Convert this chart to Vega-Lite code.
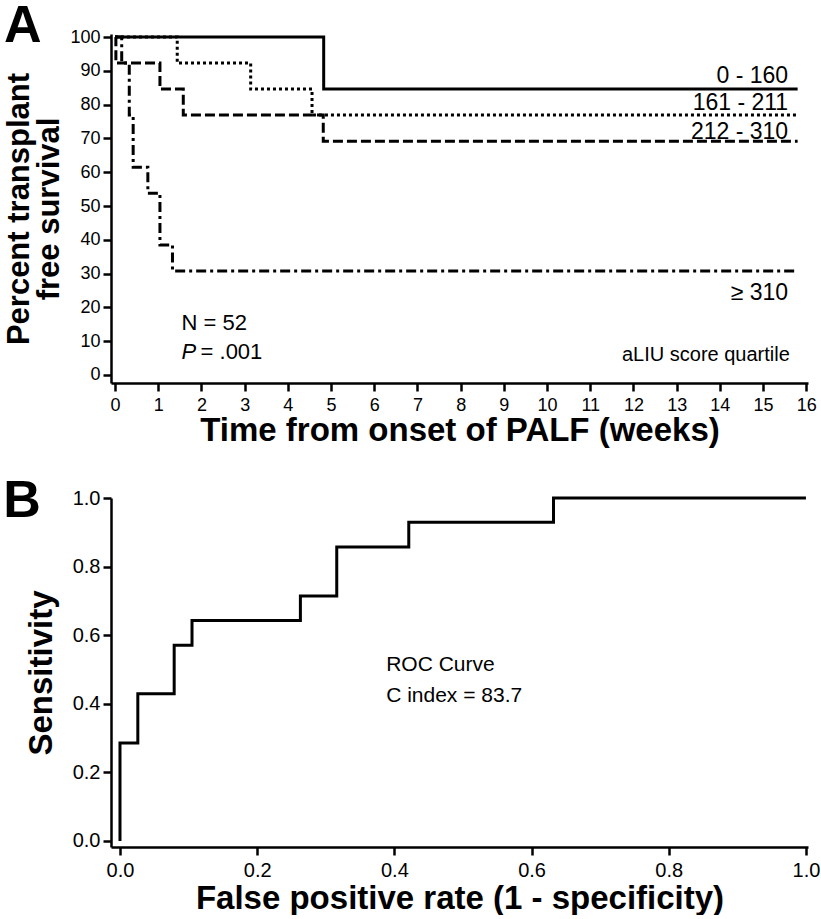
{
  "$schema": "https://vega.github.io/schema/vega-lite/v6.json",
  "background": "white",
  "padding": {"left": 3, "top": 0, "right": 5, "bottom": 0},
  "config": {
    "view": {"stroke": null},
    "font": "Liberation Sans",
    "concat": {"spacing": 28},
    "axis": {
      "grid": false,
      "domainColor": "black",
      "domainWidth": 2.5,
      "tickColor": "black",
      "tickWidth": 2.5,
      "tickSize": 8,
      "labelColor": "black",
      "labelFont": "Liberation Sans",
      "labelFlush": false,
      "labelOverlap": false,
      "titleColor": "black",
      "titleFont": "Liberation Sans",
      "titleFontWeight": "bold"
    },
    "text": {"color": "black", "font": "Liberation Sans"}
  },
  "datasets": {
    "km": [
      {"group": "0 - 160", "t": 0, "s": 100},
      {"group": "0 - 160", "t": 4.83, "s": 84.6},
      {"group": "0 - 160", "t": 15.8, "s": 84.6},
      {"group": "161 - 211", "t": 0, "s": 100},
      {"group": "161 - 211", "t": 1.44, "s": 92.3},
      {"group": "161 - 211", "t": 3.14, "s": 84.6},
      {"group": "161 - 211", "t": 4.56, "s": 76.9},
      {"group": "161 - 211", "t": 15.8, "s": 76.9},
      {"group": "212 - 310", "t": 0, "s": 100},
      {"group": "212 - 310", "t": 0.02, "s": 92.3},
      {"group": "212 - 310", "t": 1.04, "s": 84.6},
      {"group": "212 - 310", "t": 1.58, "s": 76.9},
      {"group": "212 - 310", "t": 4.82, "s": 69.2},
      {"group": "212 - 310", "t": 15.8, "s": 69.2},
      {"group": "≥ 310", "t": 0, "s": 100},
      {"group": "≥ 310", "t": 0.155, "s": 92.3},
      {"group": "≥ 310", "t": 0.33, "s": 76.9},
      {"group": "≥ 310", "t": 0.42, "s": 61.5},
      {"group": "≥ 310", "t": 0.76, "s": 53.8},
      {"group": "≥ 310", "t": 1.04, "s": 38.5},
      {"group": "≥ 310", "t": 1.33, "s": 30.8},
      {"group": "≥ 310", "t": 15.8, "s": 30.8}
    ],
    "groupLabels": [
      {"label": "0 - 160", "t": 15.58, "s": 88.5},
      {"label": "161 - 211", "t": 15.58, "s": 80.6},
      {"label": "212 - 310", "t": 15.58, "s": 71.9},
      {"label": "≥ 310", "t": 15.58, "s": 24.3}
    ],
    "roc": [
      {"fpr": 0, "tpr": 0},
      {"fpr": 0.026, "tpr": 0.286},
      {"fpr": 0.079, "tpr": 0.429},
      {"fpr": 0.105, "tpr": 0.571},
      {"fpr": 0.263, "tpr": 0.643},
      {"fpr": 0.316, "tpr": 0.714},
      {"fpr": 0.421, "tpr": 0.857},
      {"fpr": 0.632, "tpr": 0.929},
      {"fpr": 1.0, "tpr": 1.0}
    ]
  },
  "vconcat": [
    {
      "width": 697,
      "height": 349,
      "title": {"text": "A", "anchor": "start", "frame": "bounds", "fontSize": 52, "fontWeight": "bold", "font": "Liberation Sans", "color": "black", "offset": 0, "dy": 25},
      "encoding": {
        "x": {
          "field": "t", "type": "quantitative",
          "scale": {"domain": [-0.093, 16.04], "nice": false, "zero": false},
          "axis": {"values": [0,1,2,3,4,5,6,7,8,9,10,11,12,13,14,15,16], "labelFontSize": 18, "labelPadding": 5, "title": "Time from onset of PALF (weeks)", "titleFontSize": 33, "titlePadding": 0}
        },
        "y": {
          "field": "s", "type": "quantitative",
          "scale": {"domain": [-2.37, 100.9], "nice": false, "zero": false},
          "axis": {"values": [0,10,20,30,40,50,60,70,80,90,100], "labelFontSize": 18, "labelPadding": 3, "title": ["Percent transplant", "free survival"], "titleFontSize": 31, "titleLineHeight": 30, "titlePadding": 4}
        }
      },
      "layer": [
        {
          "data": {"name": "km"},
          "mark": {"type": "line", "interpolate": "step-after", "strokeWidth": 3, "color": "black"},
          "encoding": {
            "strokeDash": {
              "field": "group", "type": "nominal",
              "scale": {"domain": ["0 - 160", "161 - 211", "212 - 310", "≥ 310"], "range": [[1, 0], [3, 3], [10, 4], [10, 4, 3, 4]]},
              "legend": null
            }
          }
        },
        {
          "data": {"name": "groupLabels"},
          "mark": {"type": "text", "align": "right", "baseline": "middle", "fontSize": 23},
          "encoding": {"text": {"field": "label"}}
        },
        {
          "data": {"values": [{"label": "aLIU score quartile", "t": 15.62, "s": 5.9}]},
          "mark": {"type": "text", "align": "right", "baseline": "middle", "fontSize": 20},
          "encoding": {"text": {"field": "label"}}
        },
        {
          "data": {"values": [{"label": "N = 52", "t": 1.54, "s": 15.4}, {"label": "= .001", "t": 1.98, "s": 6.8}]},
          "mark": {"type": "text", "align": "left", "baseline": "middle", "fontSize": 22},
          "encoding": {"text": {"field": "label"}}
        },
        {
          "data": {"values": [{"label": "P", "t": 1.54, "s": 6.8}]},
          "mark": {"type": "text", "align": "left", "baseline": "middle", "fontSize": 22, "fontStyle": "italic"},
          "encoding": {"text": {"field": "label"}}
        }
      ]
    },
    {
      "width": 697,
      "height": 349,
      "title": {"text": "B", "anchor": "start", "frame": "bounds", "fontSize": 52, "fontWeight": "bold", "font": "Liberation Sans", "color": "black", "offset": 0, "dy": 40, "dx": -22},
      "encoding": {
        "x": {
          "field": "fpr", "type": "quantitative",
          "scale": {"domain": [-0.0131, 1.003], "nice": false, "zero": false},
          "axis": {"values": [0, 0.2, 0.4, 0.6, 0.8, 1.0], "format": ".1f", "labelFontSize": 20, "labelPadding": 5, "title": "False positive rate (1 - specificity)", "titleFontSize": 33, "titlePadding": 2}
        },
        "y": {
          "field": "tpr", "type": "quantitative",
          "scale": {"domain": [-0.0175, 1.0], "nice": false, "zero": false},
          "axis": {"values": [0, 0.2, 0.4, 0.6, 0.8, 1.0], "format": ".1f", "labelFontSize": 20, "labelPadding": 3, "title": "Sensitivity", "titleFontSize": 33, "titlePadding": 14}
        }
      },
      "layer": [
        {
          "data": {"name": "roc"},
          "mark": {"type": "line", "interpolate": "step-before", "strokeWidth": 3, "color": "black"},
          "encoding": {}
        },
        {
          "data": {"values": [{"label": "ROC Curve", "fpr": 0.388, "tpr": 0.513}, {"label": "C index = 83.7", "fpr": 0.388, "tpr": 0.423}]},
          "mark": {"type": "text", "align": "left", "baseline": "middle", "fontSize": 21},
          "encoding": {"text": {"field": "label"}}
        }
      ]
    }
  ]
}
